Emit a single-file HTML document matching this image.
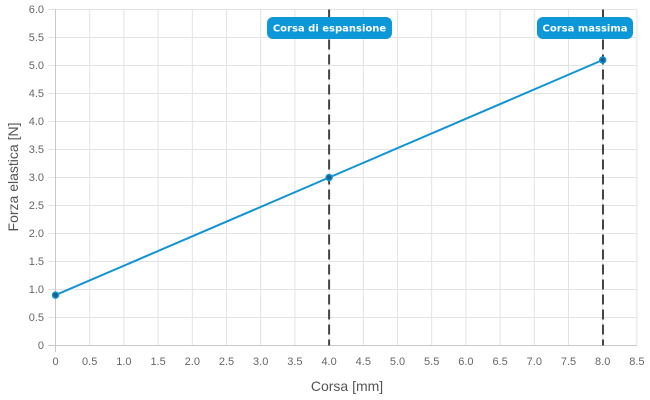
<!DOCTYPE html>
<html><head><style>
html,body{margin:0;padding:0;background:#fff;}
svg{display:block;font-family:"Liberation Sans",Arial,sans-serif;}
</style></head><body>
<svg width="650" height="400" viewBox="0 0 650 400">
<g stroke="#e3e3e3" stroke-width="1">
<line x1="89.7" y1="9.5" x2="89.7" y2="345.5"/><line x1="123.9" y1="9.5" x2="123.9" y2="345.5"/><line x1="158.1" y1="9.5" x2="158.1" y2="345.5"/><line x1="192.3" y1="9.5" x2="192.3" y2="345.5"/><line x1="226.5" y1="9.5" x2="226.5" y2="345.5"/><line x1="260.7" y1="9.5" x2="260.7" y2="345.5"/><line x1="294.9" y1="9.5" x2="294.9" y2="345.5"/><line x1="329.1" y1="9.5" x2="329.1" y2="345.5"/><line x1="363.3" y1="9.5" x2="363.3" y2="345.5"/><line x1="397.5" y1="9.5" x2="397.5" y2="345.5"/><line x1="431.7" y1="9.5" x2="431.7" y2="345.5"/><line x1="465.9" y1="9.5" x2="465.9" y2="345.5"/><line x1="500.1" y1="9.5" x2="500.1" y2="345.5"/><line x1="534.3" y1="9.5" x2="534.3" y2="345.5"/><line x1="568.5" y1="9.5" x2="568.5" y2="345.5"/><line x1="602.7" y1="9.5" x2="602.7" y2="345.5"/><line x1="636.9" y1="9.5" x2="636.9" y2="345.5"/>
<line x1="48" y1="9.5" x2="637" y2="9.5"/><line x1="48" y1="37.5" x2="637" y2="37.5"/><line x1="48" y1="65.5" x2="637" y2="65.5"/><line x1="48" y1="93.5" x2="637" y2="93.5"/><line x1="48" y1="121.5" x2="637" y2="121.5"/><line x1="48" y1="149.5" x2="637" y2="149.5"/><line x1="48" y1="177.5" x2="637" y2="177.5"/><line x1="48" y1="205.5" x2="637" y2="205.5"/><line x1="48" y1="233.5" x2="637" y2="233.5"/><line x1="48" y1="261.5" x2="637" y2="261.5"/><line x1="48" y1="289.5" x2="637" y2="289.5"/><line x1="48" y1="317.5" x2="637" y2="317.5"/><line x1="48" y1="345.5" x2="637" y2="345.5"/>
</g>
<g stroke="#c8c8c8"><line x1="55.5" y1="9.5" x2="55.5" y2="352"/><line x1="48" y1="345.5" x2="637" y2="345.5"/></g>
<g font-size="11" fill="#666" text-anchor="end">
<text x="44" y="13">6.0</text><text x="44" y="41">5.5</text><text x="44" y="69">5.0</text><text x="44" y="97">4.5</text><text x="44" y="125">4.0</text><text x="44" y="153">3.5</text><text x="44" y="181">3.0</text><text x="44" y="209">2.5</text><text x="44" y="237">2.0</text><text x="44" y="265">1.5</text><text x="44" y="293">1.0</text><text x="44" y="321">0.5</text><text x="44" y="349">0</text>
</g>
<g font-size="11" fill="#666" text-anchor="middle">
<text x="55.5" y="365">0</text><text x="89.7" y="365">0.5</text><text x="123.9" y="365">1.0</text><text x="158.1" y="365">1.5</text><text x="192.3" y="365">2.0</text><text x="226.5" y="365">2.5</text><text x="260.7" y="365">3.0</text><text x="294.9" y="365">3.5</text><text x="329.1" y="365">4.0</text><text x="363.3" y="365">4.5</text><text x="397.5" y="365">5.0</text><text x="431.7" y="365">5.5</text><text x="465.9" y="365">6.0</text><text x="500.1" y="365">6.5</text><text x="534.3" y="365">7.0</text><text x="568.5" y="365">7.5</text><text x="602.7" y="365">8.0</text><text x="636.9" y="365">8.5</text>
</g>
<text x="347" y="391" font-size="14" fill="#555" text-anchor="middle">Corsa [mm]</text>
<text transform="translate(18,177) rotate(-90)" font-size="14" fill="#555" text-anchor="middle">Forza elastica [N]</text>
<g stroke="#444" stroke-width="2" stroke-dasharray="10,5">
<line x1="329.1" y1="9.5" x2="329.1" y2="345.5"/><line x1="603" y1="9.5" x2="603" y2="345.5"/>
</g>
<polyline points="55.5,295.1 329.1,177.5 602.7,60" fill="none" stroke="#1193d4" stroke-width="2"/>
<g fill="#1a5f86" stroke="#1193d4" stroke-width="1.5">
<circle cx="55.5" cy="295.1" r="3"/><circle cx="329.1" cy="177.5" r="3"/><circle cx="602.7" cy="60" r="3"/>
</g>
<g font-family="'DejaVu Sans',sans-serif" font-size="10" font-weight="bold" fill="#fff" text-anchor="middle">
<rect x="267" y="17" width="125" height="22" rx="6" fill="#0b97d8"/>
<text x="329.5" y="31.5">Corsa di espansione</text>
<rect x="537" y="17" width="96" height="22" rx="6" fill="#0b97d8"/>
<text x="585" y="31.5">Corsa massima</text>
</g>
</svg>
</body></html>
